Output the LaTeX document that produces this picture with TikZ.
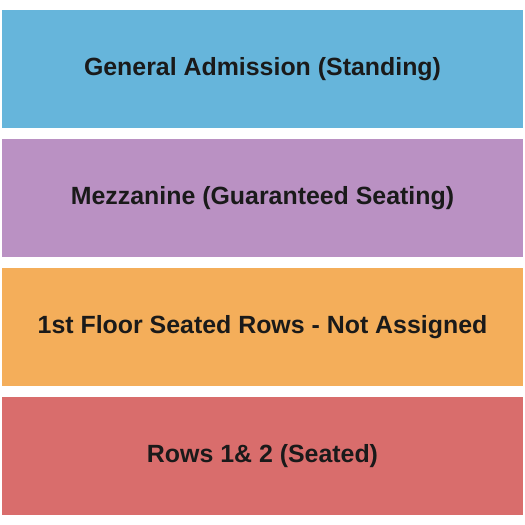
\documentclass[tikz,border=0pt]{standalone}
\usepackage{fontspec}
\setmainfont{Liberation Sans}
\definecolor{gablue}{HTML}{66B5DB}
\definecolor{mezzpurple}{HTML}{BA91C3}
\definecolor{floororange}{HTML}{F4AE5A}
\definecolor{rowsred}{HTML}{D96D6C}
\definecolor{labelgray}{HTML}{1A1A1A}
\tikzset{band/.style={inner sep=0pt,minimum width=521pt,minimum height=118pt,text=labelgray,font=\fontsize{24.9}{28}\selectfont\bfseries}}
\begin{document}
\begin{tikzpicture}[x=1pt,y=1pt]
				\useasboundingbox (0,0) rectangle (525,-525);
				\node[band,fill=gablue] (ga) at (262.5,-69){General Admission (Standing)};
				\node[band,fill=mezzpurple] (mezz) at (262.5,-198){Mezzanine (Guaranteed Seating)};
				\node[band,fill=floororange] (floor) at (262.5,-327){1st Floor Seated Rows - Not Assigned};
				\node[band,fill=rowsred] (rows) at (262.5,-456){Rows 1\& 2 (Seated)};
			\end{tikzpicture}
\end{document}
